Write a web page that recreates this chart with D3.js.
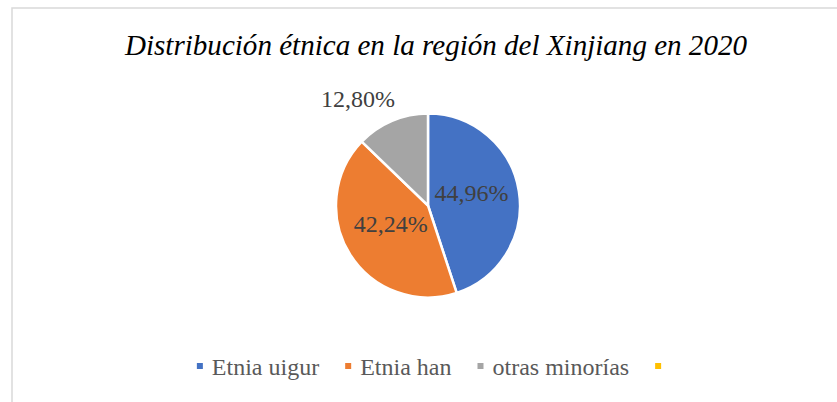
<!DOCTYPE html>
<html>
<head>
<meta charset="utf-8">
<script src="https://cdn.jsdelivr.net/npm/d3@7"></script>
</head>
<body style="margin:0;background:#fff">
<div id="chart"></div>
<script>
// chart data
const categories = ["Etnia uigur", "Etnia han", "otras minorías", ""];
const values = [44.96, 42.24, 12.80, 0];
const labels = ["44,96%", "42,24%", "12,80%", ""];
const colors = ["#4472c4", "#ed7d31", "#a5a5a5", "#ffc000"];
const title = "Distribución étnica en la región del Xinjiang en 2020";

const w = 837, h = 402;
const cx = 428, cy = 205.5, radius = 92;
const fontCss = "font-family:'Liberation Serif','Times New Roman',serif;";

let drawChart = () => {
    const svg = d3.select("#chart").append("svg")
        .attr("width", w)
        .attr("height", h)
        .attr("style", "display:block;" + fontCss);

    // chart area border (runs off the right and bottom edges)
    svg.append("rect")
        .attr("x", 12).attr("y", 8)
        .attr("width", 900).attr("height", 500)
        .attr("fill", "none")
        .attr("stroke", "#d9d9d9")
        .attr("stroke-width", 1.5);

    svg.append("text")
        .attr("x", 125).attr("y", 55)
        .attr("textLength", 622)
        .attr("lengthAdjust", "spacingAndGlyphs")
        .attr("style", fontCss + "font-style:italic;font-size:30px")
        .attr("fill", "#000")
        .text(title);

    const dataArray = categories.map((c, i) => ({ name: c, value: values[i], label: labels[i], color: colors[i] }));

    const pie = d3.pie().value(d => d.value).sort(null);
    const arcs = pie(dataArray).filter(d => d.data.value > 0);

    const arc = d3.arc().innerRadius(0).outerRadius(radius);
    const labelArc = d3.arc().innerRadius(88).outerRadius(0); // centroid at r=44

    const g = svg.append("g").attr("transform", "translate(" + cx + "," + cy + ")");

    g.selectAll("path")
        .data(arcs)
        .enter()
        .append("path")
        .attr("d", arc)
        .attr("fill", d => d.data.color)
        .attr("stroke", "#fff")
        .attr("stroke-width", 2.5)
        .attr("stroke-linejoin", "round");

    // labels: inside for big slices, outside for the small one
    g.selectAll("text")
        .data(arcs)
        .enter()
        .append("text")
        .each(function(d) {
            const t = d3.select(this);
            const share = (d.endAngle - d.startAngle) / (2 * Math.PI);
            const mid = (d.startAngle + d.endAngle) / 2;
            if (share > 0.2) {
                const c = labelArc.centroid(d);
                t.attr("x", c[0]).attr("y", c[1])
                 .attr("dy", "0.12em")
                 .attr("text-anchor", "middle");
            } else {
                const r = radius + 8;
                const x = Math.sin(mid) * r, y = -Math.cos(mid) * r;
                t.attr("x", x + 6).attr("y", y - 6)
                 .attr("text-anchor", x < 0 ? "end" : "start");
            }
        })
        .attr("style", fontCss + "font-size:24px")
        .attr("fill", "#404040")
        .text(d => d.data.label);

    // legend, laid out left to right and centred under the pie
    const legend = svg.append("g");
    let xPos = 0;
    dataArray.forEach(d => {
        const item = legend.append("g").attr("transform", "translate(" + xPos + ",0)");
        item.append("rect")
            .attr("x", 0).attr("y", -12)
            .attr("width", 6).attr("height", 6)
            .attr("fill", d.color);
        const txt = item.append("text")
            .attr("x", 15).attr("y", 0)
            .attr("style", fontCss + "font-size:24px")
            .attr("fill", "#595959")
            .text(d.name);
        const tw = d.name ? txt.node().getComputedTextLength() : 0;
        xPos += 15 + tw + 26;
    });
    const legendWidth = xPos - 26 - 15 + 6;
    legend.attr("transform", "translate(" + (cx + 1 - legendWidth / 2) + ",375)");
}

// make sure the serif faces are ready before measuring text
Promise.all([
    document.fonts.load("24px 'Liberation Serif'"),
    document.fonts.load("italic 30px 'Liberation Serif'")
]).catch(() => {}).then(drawChart);
</script>
</body>
</html>
